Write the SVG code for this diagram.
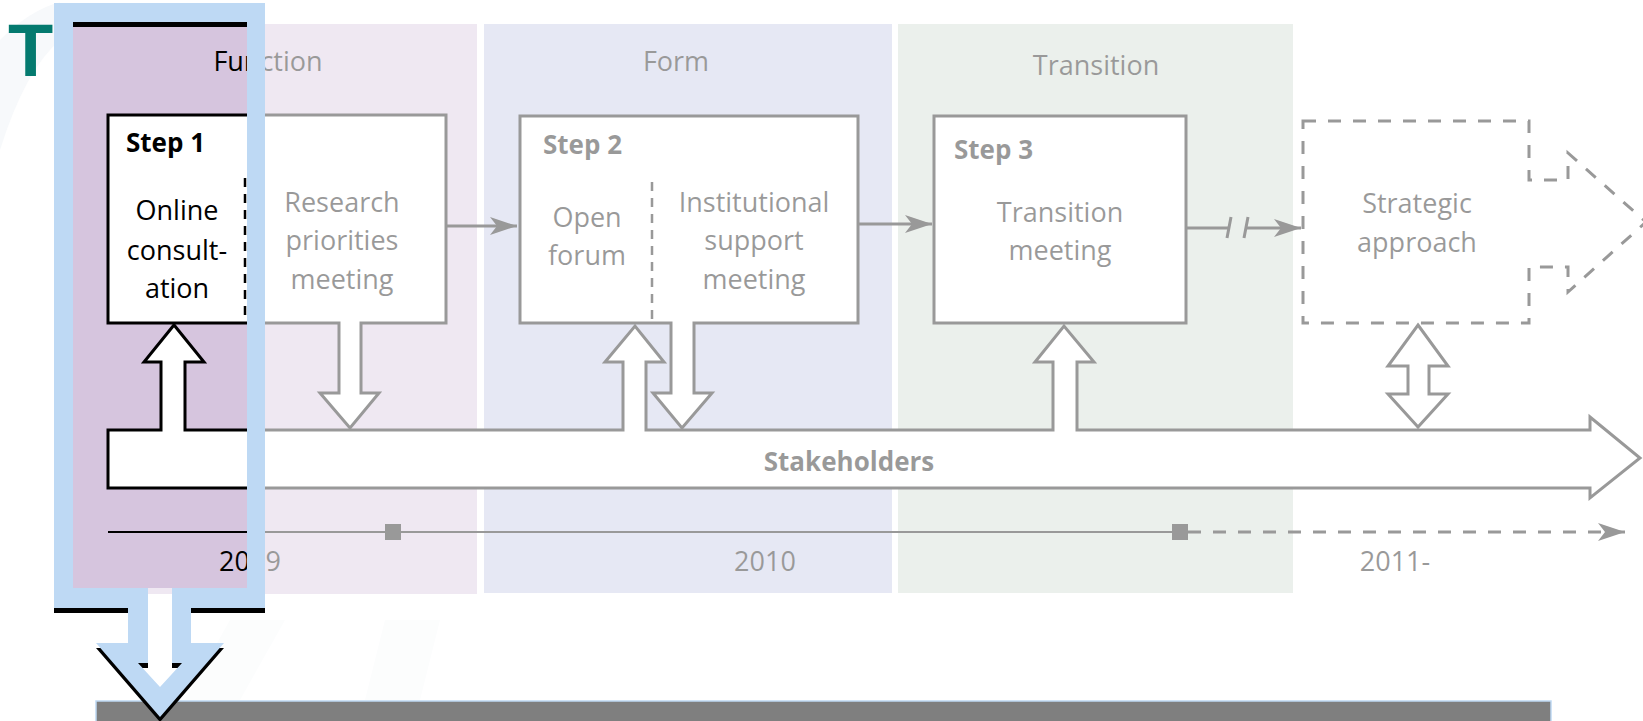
<svg xmlns="http://www.w3.org/2000/svg" width="1643" height="721" viewBox="0 0 1643 721">
<defs>
<style>
.t{font-family:"Open Sans","Liberation Sans",sans-serif;font-size:27px;fill:#000;text-anchor:middle}
.s{font-family:"Open Sans","Liberation Sans",sans-serif;font-size:26px;font-weight:bold;fill:#000}
.box{fill:#fff;stroke:#000;stroke-width:3;stroke-linejoin:miter}
.div{fill:none;stroke:#000;stroke-width:2.5;stroke-dasharray:9 7}
.conn{fill:none;stroke:#000;stroke-width:3}
.tl{fill:none;stroke:#000;stroke-width:2}
.dash{fill:none;stroke:#000;stroke-width:3;stroke-dasharray:13 12}
.sq{fill:#000}
.wm{fill:#f7f9fb}
</style>
<marker id="ah" markerUnits="userSpaceOnUse" viewBox="0 0 28 18" markerWidth="28" markerHeight="18" refX="27" refY="9" orient="auto">
<path d="M0,0 L27,9 L0,18 L7,9 Z" fill="#000"/>
</marker>
</defs>
<rect width="1643" height="721" fill="#fff"/>
<g id="watermark">
<path class="wm" d="M0 40 Q30 10 60 2 L60 40 Q25 70 0 150 Z"/>
<path class="wm" d="M230 620 L285 620 L240 700 L185 700 Z"/>
<path class="wm" d="M385 620 L440 620 L420 700 L365 700 Z"/>
</g>
<g id="diagram">
<g id="panels">
<rect id="panel-function" x="60" y="24" width="417" height="570" fill="#d6c5de"/>
<rect id="panel-form" x="484" y="24" width="408" height="569" fill="#c0c5e3"/>
<rect id="panel-transition" x="898" y="24" width="395" height="569" fill="#cdd9cf"/>
<text class="t" x="268" y="71">Function</text>
<text class="t" x="676" y="71">Form</text>
<text class="t" x="1096" y="75">Transition</text>
</g>
<g id="connectors">
<path class="conn" d="M446 226 H517" marker-end="url(#ah)"/>
<path class="conn" d="M858 224 H932" marker-end="url(#ah)"/>
<path class="conn" d="M1186 228 H1229"/>
<path class="conn" d="M1231 217 L1227 238 M1248 217 L1244 238"/>
<path class="conn" d="M1246 228 H1301" marker-end="url(#ah)"/>
<path class="tl" d="M108 532 H1172"/>
<path class="dash" d="M1188 532 H1625" marker-end="url(#ah)"/>
<rect class="sq" x="385" y="524" width="16" height="16"/>
<rect class="sq" x="1172" y="524" width="16" height="16"/>
</g>
<g id="stakeholders">
<path class="box" d="M108 430 H161 V362 H144 L174 325 L204 362 H185 V430 H623 V362 H605 L635 326 L664 362 H646 V430 H1053 V362 H1035 L1064 326 L1094 362 H1077 V430 H1590 V417 L1640 458 L1590 498 V488 H108 Z"/>
<text class="s" x="849" y="471" text-anchor="middle">Stakeholders</text>
</g>
<g id="step1">
<path class="box" d="M361 323 H446 V115 H108 V323 H339 V393 H320 L350 428 L379 393 H361 Z"/>
<path class="div" d="M245 178 V322"/>
<text class="s" x="126" y="152">Step 1</text>
<text class="t" x="177" y="220">Online</text>
<text class="t" x="177" y="260">consult-</text>
<text class="t" x="177" y="298">ation</text>
<text class="t" x="342" y="212">Research</text>
<text class="t" x="342" y="250">priorities</text>
<text class="t" x="342" y="289">meeting</text>
</g>
<g id="step2">
<path class="box" d="M694 323 H858 V116 H520 V323 H671 V393 H653 L682 428 L712 393 H694 Z"/>
<path class="div" d="M652 182 V322"/>
<text class="s" x="543" y="154">Step 2</text>
<text class="t" x="587" y="227">Open</text>
<text class="t" x="587" y="265">forum</text>
<text class="t" x="754" y="212">Institutional</text>
<text class="t" x="754" y="250">support</text>
<text class="t" x="754" y="289">meeting</text>
</g>
<g id="step3">
<rect class="box" x="934" y="116" width="252" height="207"/>
<text class="s" x="954" y="159">Step 3</text>
<text class="t" x="1060" y="222">Transition</text>
<text class="t" x="1060" y="260">meeting</text>
</g>
<g id="strategic">
<path class="dash" style="fill:#fff" d="M1303 121 H1529 V180 H1568 V153 L1646 222 L1568 292 V267 H1529 V323 H1303 Z"/>
<path class="box" d="M1418 325 L1448 366 H1429 V394 H1448 L1418 427 L1388 394 H1408 V366 H1388 Z"/>
<text class="t" x="1417" y="213">Strategic</text>
<text class="t" x="1417" y="252">approach</text>
</g>
<g id="years">
<text class="t" x="250" y="571">2009</text>
<text class="t" x="765" y="571">2010</text>
<text class="t" x="1395" y="571">2011-</text>
</g>
</g>
<path id="fade" fill="#fff" fill-opacity="0.6" fill-rule="evenodd" d="M54 0 H1643 V700 H54 Z M73 22 V588 H247 V22 Z"/>
<text x="8" y="76" font-family="Liberation Sans, Arial, sans-serif" font-size="74" font-weight="bold" fill="#047a6f">T</text>
<rect id="bar" x="96" y="701" width="1455" height="24" fill="#7f7f7f" stroke="#bed9f4" stroke-width="1.5"/>
<g id="spotlight">
<path fill="#000" fill-rule="evenodd" transform="translate(0,5)" d="M54 3 H265 V608 H191 V643 H224 L160 717 L96 643 H128 V608 H54 Z M73 22 V588 H148 V663 H138 L160 687 L182 663 H172 V588 H247 V22 Z"/>
<path fill="#bed9f4" fill-rule="evenodd" d="M54 3 H265 V608 H191 V643 H224 L160 717 L96 643 H128 V608 H54 Z M73 22 V588 H148 V663 H138 L160 687 L182 663 H172 V588 H247 V22 Z"/>
</g>
</svg>
